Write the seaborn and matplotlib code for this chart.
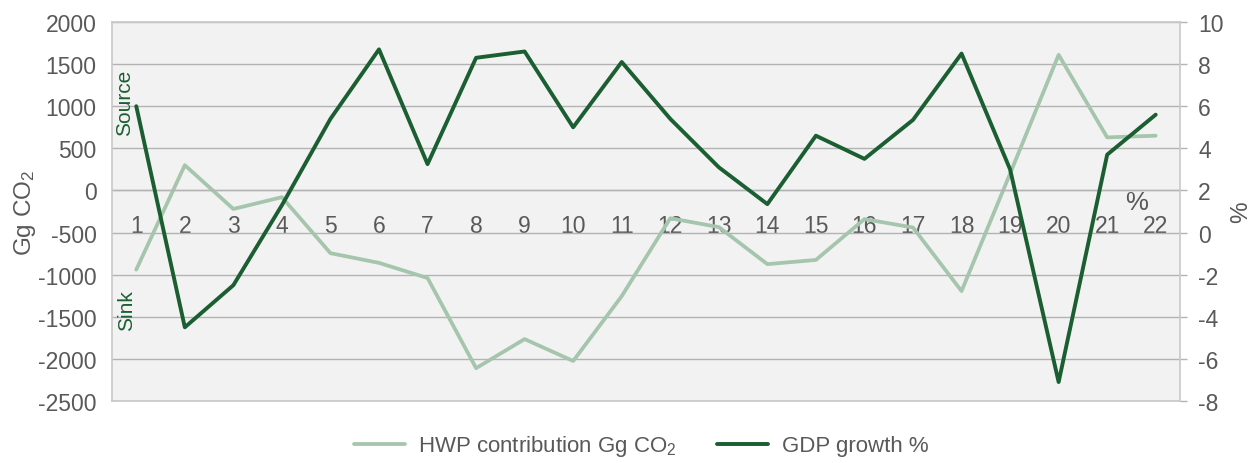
import numpy as np
import pandas as pd
import matplotlib
matplotlib.use("Agg")
import matplotlib.pyplot as plt
import seaborn as sns

# ---- data ----
periods = list(range(1, 23))
period_labels = [str(p) for p in periods]
hwp_contribution = [-940, 300, -220, -80, -745, -860, -1040, -2110, -1765, -2025, -1255,
                    -330, -435, -875, -825, -340, -440, -1195, 200, 1610, 630, 650]
gdp_growth = [6.0, -4.5, -2.5, 1.3, 5.4, 8.7, 3.25, 8.3, 8.6, 5.0, 8.1,
              5.4, 3.1, 1.35, 4.6, 3.5, 5.35, 8.5, 3.0, -7.1, 3.7, 5.6]
left_ticks = [2000, 1500, 1000, 500, 0, -500, -1000, -1500, -2000, -2500]
right_ticks = [10, 8, 6, 4, 2, 0, -2, -4, -6, -8]

df = pd.DataFrame({"period": periods, "hwp": hwp_contribution, "gdp": gdp_growth})

LIGHT = "#a5c5ad"
DARK = "#1b5e32"
TEXT = "#595959"
GRID = "#b3b3b3"
BG = "#f2f2f2"

sns.set_theme(style="white")
plt.rcParams["font.family"] = ["Liberation Sans", "DejaVu Sans"]
plt.rcParams["mathtext.fontset"] = "custom"
plt.rcParams["mathtext.rm"] = "Liberation Sans"
plt.rcParams["mathtext.it"] = "Liberation Sans"
FS = 16.5

fig = plt.figure(figsize=(12.57, 4.64), dpi=100)
ax = fig.add_axes([112 / 1257, 1 - 402 / 464, (1180 - 112) / 1257, (402 - 23) / 464])
ax.set_facecolor(BG)
ax2 = ax.twinx()

sns.lineplot(data=df, x="period", y="hwp", ax=ax, color=LIGHT, linewidth=2.7,
             label="HWP contribution Gg CO$_2$", legend=False)
sns.lineplot(data=df, x="period", y="gdp", ax=ax2, color=DARK, linewidth=2.8,
             label="GDP growth %", legend=False)

ax.set_xlim(0.5, 22.5)
ax.set_ylim(-2500, 2000)
ax2.set_ylim(-8, 10)
ax.set_yticks(left_ticks)
ax.set_yticklabels([str(t) for t in left_ticks])
ax2.set_yticks(right_ticks)
ax2.set_yticklabels([str(t) for t in right_ticks])

ax.set_xticks(periods)
ax.set_xticklabels(period_labels)
ax.set_xticks([p + 0.5 for p in periods[:-1]], minor=True)
ax.tick_params(axis="x", which="major", length=0, pad=17, labelsize=FS, colors=TEXT)
ax.tick_params(axis="x", which="minor", length=4, width=1, color=GRID, direction="out")
ax.tick_params(axis="y", length=0, pad=11, labelsize=FS, colors=TEXT)
ax2.tick_params(axis="y", length=5, width=1, color=GRID, pad=8, labelsize=FS, labelcolor=TEXT)

ax.grid(axis="y", color=GRID, linewidth=1)
ax.grid(axis="x", visible=False)
ax.set_axisbelow(True)

for s in ax.spines.values():
    s.set_visible(False)
ax.spines["bottom"].set_visible(True)
ax.spines["bottom"].set_position(("data", 0))
ax.spines["bottom"].set_color(GRID)
ax.spines["bottom"].set_linewidth(1)
for name, s in ax2.spines.items():
    s.set_visible(True)
    s.set_color("#c8c8c8")
    s.set_linewidth(1.2)

ax.set_xlabel("")
ax.set_ylabel("Gg CO$_2$", fontsize=FS + 1, color=TEXT)
ax2.set_ylabel("%", fontsize=FS + 1, color=TEXT)
ax.yaxis.set_label_coords((38 - 112) / 1068, 0.5)
ax2.yaxis.set_label_coords((1230 - 112) / 1068, 0.5)

ax.text(0.012, 0.79, "Source", rotation=90, transform=ax.transAxes, fontsize=15,
        color=DARK, ha="center", va="center")
ax.text(0.014, 0.24, "Sink", rotation=90, transform=ax.transAxes, fontsize=15,
        color=DARK, ha="center", va="center")
ax.text((1137 - 112) / 1068, (402 - 203) / 379, "%", transform=ax.transAxes,
        fontsize=FS + 2, color=TEXT, ha="center", va="center")

h1, l1 = ax.get_legend_handles_labels()
h2, l2 = ax2.get_legend_handles_labels()
fig.legend(h1 + h2, l1 + l2, loc="center", bbox_to_anchor=(0.51, 0.037), ncol=2,
           frameon=False, fontsize=16, labelcolor=TEXT, handlelength=2.3,
           columnspacing=1.8, handletextpad=0.6)

fig.savefig("out.png", dpi=100)
